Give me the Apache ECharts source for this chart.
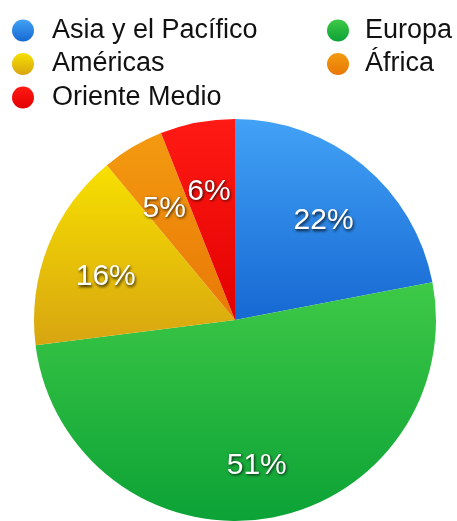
<!DOCTYPE html>
<html>
<head>
<meta charset="utf-8">
<script src="https://cdn.jsdelivr.net/npm/echarts@6/dist/echarts.min.js"></script>
<style>
  html, body { margin: 0; padding: 0; background: #ffffff; }
  #chart { width: 457px; height: 521px; }
</style>
</head>
<body>
<div id="chart"></div>
<script>
// Regions in drawing order (clockwise from 12 o'clock)
const regions = ['Asia y el Pacífico', 'Europa', 'Américas', 'África', 'Oriente Medio'];
const shares = [22, 51, 16, 5, 6];
// Top / bottom tones for each wedge's vertical shading
const topColors = ['#42a2f6', '#3ec947', '#f7e000', '#f39a10', '#ff1a14'];
const bottomColors = ['#1668d2', '#0ca236', '#d8a511', '#e97806', '#e20000'];

// Legend columns
const legendLeftCol = ['Asia y el Pacífico', 'Américas', 'Oriente Medio'];
const legendRightCol = ['Europa', 'África'];

const shade = (i) => new echarts.graphic.LinearGradient(0, 0, 0, 1, [
  { offset: 0, color: topColors[i] },
  { offset: 1, color: bottomColors[i] }
]);

const pieData = regions.map((name, i) => ({
  name: name,
  value: shares[i],
  itemStyle: { color: shade(i) }
}));

const labelData = regions.map((name, i) => ({
  name: name,
  value: shares[i],
  itemStyle: { color: 'rgba(0,0,0,0)' }
}));

const legendText = (gap) => ({
  fontFamily: 'Liberation Sans, Arial, sans-serif',
  fontSize: 27,
  color: '#111111',
  lineHeight: 33,
  padding: [0, 0, 0, gap]
});

const chart = echarts.init(document.getElementById('chart'), null, { renderer: 'canvas' });
chart.setOption({
  backgroundColor: '#ffffff',
  animation: false,
  legend: [
    {
      data: legendLeftCol,
      orient: 'vertical',
      left: 12,
      top: 14,
      padding: 0,
      icon: 'circle',
      itemWidth: 22,
      itemHeight: 22,
      itemGap: 0.5,
      selectedMode: false,
      textStyle: legendText(13)
    },
    {
      data: legendRightCol,
      orient: 'vertical',
      left: 327,
      top: 14,
      padding: 0,
      icon: 'circle',
      itemWidth: 22,
      itemHeight: 22,
      itemGap: 0.5,
      selectedMode: false,
      textStyle: legendText(11)
    }
  ],
  series: [
    {
      name: 'Regiones',
      type: 'pie',
      center: [235, 320],
      radius: 201,
      startAngle: 90,
      clockwise: true,
      label: { show: false },
      labelLine: { show: false },
      itemStyle: { borderWidth: 0 },
      emphasis: { disabled: true },
      data: pieData
    },
    {
      // Invisible twin wedges used only to place the percentage labels
      name: 'Etiquetas',
      type: 'pie',
      center: [235, 328],
      radius: 272,
      startAngle: 90,
      clockwise: true,
      silent: true,
      legendHoverLink: false,
      labelLine: { show: false },
      emphasis: { disabled: true },
      label: {
        show: true,
        position: 'inside',
        formatter: '{c}%',
        color: '#ffffff',
        fontFamily: 'Liberation Sans, Arial, sans-serif',
        fontSize: 30,
        textShadowColor: 'rgba(0,0,0,0.8)',
        textShadowBlur: 3,
        textShadowOffsetX: 1,
        textShadowOffsetY: 1.5
      },
      data: labelData
    }
  ]
});
</script>
</body>
</html>
